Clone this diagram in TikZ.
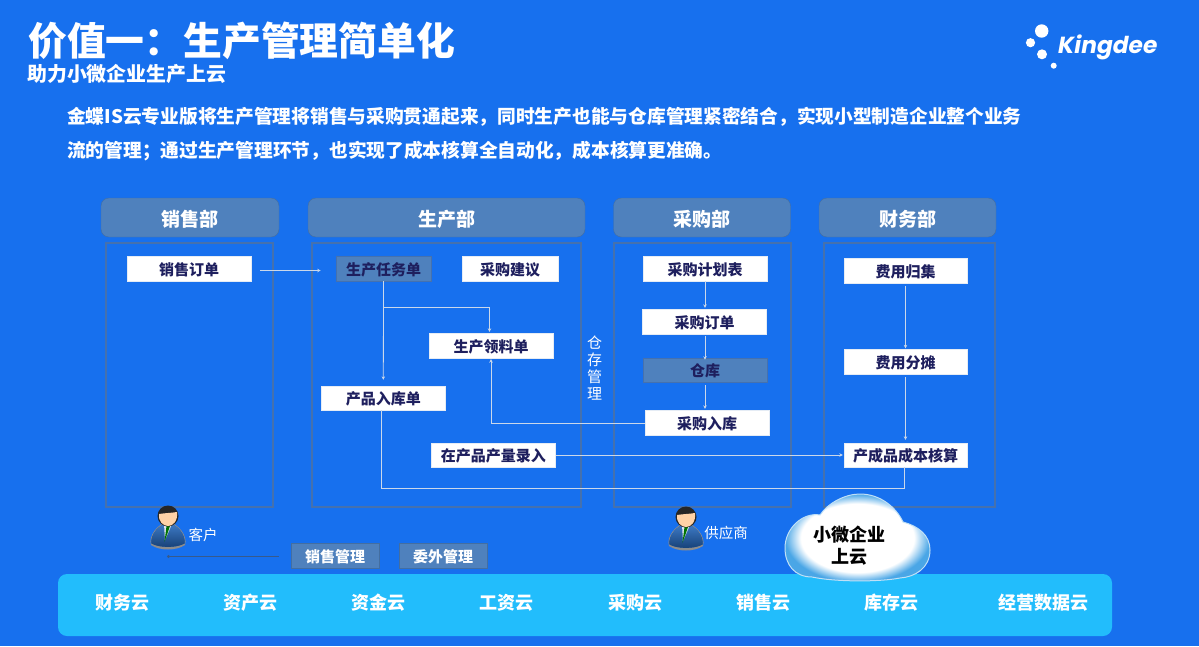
\documentclass[tikz,border=0pt]{standalone}
\usepackage{fontspec}
\setmainfont{Noto Sans CJK SC}
\newfontfamily\kfont{Poppins}
\usetikzlibrary{arrows.meta,shadings}
\definecolor{bgblue}{HTML}{1770EE}
\definecolor{hdr}{HTML}{4F81BD}
\definecolor{panelln}{HTML}{4571AE}
\definecolor{darktxt}{HTML}{1E1F5E}
\definecolor{connln}{HTML}{CBD8EA}
\definecolor{band}{HTML}{22BDFC}
\definecolor{cloudedge}{HTML}{4AA6E6}
\definecolor{suit}{HTML}{1F5BA8}
\definecolor{suitlt}{HTML}{3F7CC8}
\pgfdeclareradialshading{cloudsh}{\pgfpoint{0bp}{0bp}}{color(0bp)=(white); color(19.5bp)=(white); color(25bp)=(cloudedge); color(50bp)=(cloudedge)}
\tikzset{
 hdrbox/.style={draw=hdr!85!black,line width=.4pt,fill=hdr,rounded corners=8pt,inner sep=0,minimum height=39pt,text height=19pt,text depth=2pt,text=white,font=\fontsize{19}{19}\selectfont\bfseries},
 panelbox/.style={draw=panelln,line width=1.1pt,inner sep=0},
 whitebox/.style={draw=white!85!hdr,line width=.4pt,fill=white,inner sep=0,minimum width=124pt,minimum height=25pt,text height=15pt,text depth=1.6pt,text=darktxt,font=\fontsize{15}{15}\selectfont\bfseries},
 bluebox/.style={draw=panelln,line width=.6pt,fill=hdr,inner sep=0,minimum width=124pt,minimum height=25pt,text height=15pt,text depth=1.6pt,text=darktxt,font=\fontsize{15}{15}\selectfont\bfseries},
 mgmtbox/.style={draw=hdr!85!black,line width=.4pt,fill=hdr,inner sep=0,minimum width=88pt,minimum height=25pt,text height=15pt,text depth=1.6pt,text=white,font=\fontsize{15}{15}\selectfont\bfseries},
 conn/.style={draw=connln,line width=.8pt,-{Stealth[length=3.5pt,width=3.5pt]}},
 plainconn/.style={draw=connln,line width=.9pt},
 cloudlabel/.style={text=white,inner sep=0,font=\fontsize{18}{18}\selectfont\bfseries},
 person/.pic={
  \fill[black!45] (-17,28) .. controls (-20,19) and (-10,6) .. (0,5) .. controls (10,6) and (20,19) .. (17,28) .. controls (8,34) and (-8,34) .. (-17,28) -- cycle;
  \fill[suit,top color=suitlt,bottom color=suit!70!black] (-16.5,26.5) .. controls (-18,18) and (-9,7) .. (0,6) .. controls (9,7) and (18,18) .. (16.5,26.5) .. controls (8,31) and (-8,31) .. (-16.5,26.5) -- cycle;
  \fill[white!85!suit] (-4,7) -- (4,7) -- (-3,23) -- cycle;
  \fill[green!45!black] (-1.5,9) -- (2,9) -- (-3.5,25) -- cycle;
  \fill[black!85] (0,-1) circle[radius=10.5];
  \fill[orange!35!white] (-9,-3) .. controls (-3,-4) and (3,-4) .. (9,-5) .. controls (10,4) and (5,9) .. (0,9) .. controls (-5,9) and (-10,4) .. (-9,-3) -- cycle;
 }
}
\begin{document}
\begin{tikzpicture}[x=1pt,y=-1pt]
\useasboundingbox (0,0) rectangle (1199,646);
\fill[bgblue] (0,0) rectangle (1199,646);

% titles
\node[anchor=west,inner sep=0,text=white,font=\fontsize{38.8}{39}\selectfont\bfseries] (title) at (28,41) {价值一：生产管理简单化};
\node[anchor=west,inner sep=0,text=white,font=\fontsize{19.9}{20}\selectfont\bfseries] (subt) at (27,74) {助力小微企业生产上云};
\node[anchor=west,inner sep=0,text=white,font=\fontsize{18.72}{19}\selectfont\bfseries] (l1) at (67,117) {金蝶IS云专业版将生产管理将销售与采购贯通起来，同时生产也能与仓库管理紧密结合，实现小型制造企业整个业务};
\node[anchor=west,inner sep=0,text=white,font=\fontsize{18.72}{19}\selectfont\bfseries] (l2) at (67,151) {流的管理；通过生产管理环节，也实现了成本核算全自动化，成本核算更准确。};

% logo
\fill[white] (1041.7,31) circle[radius=6.7] (1030.5,42.7) circle[radius=4.6] (1042,54.3) circle[radius=5] (1053.7,65.7) circle[radius=3];
\node[anchor=west,inner sep=0,text=white,font=\kfont\fontsize{23.3}{24}\selectfont\bfseries\itshape] (logo) at (1058,47) {Kingdee};

% headers
\node[hdrbox,minimum width=178pt] (h1) at (190,217.5) {销售部};
\node[hdrbox,minimum width=277pt] (h2) at (446.5,217.5) {生产部};
\node[hdrbox,minimum width=177pt] (h3) at (702,217.5) {采购部};
\node[hdrbox,minimum width=177pt] (h4) at (907.5,217.5) {财务部};

% panels
\node[panelbox,minimum width=167pt,minimum height=264pt] (p1) at (189.5,375) {};
\node[panelbox,minimum width=269pt,minimum height=264pt] (p2) at (446.5,375) {};
\node[panelbox,minimum width=177pt,minimum height=264pt] (p3) at (702.5,375) {};
\node[panelbox,minimum width=171pt,minimum height=264pt] (p4) at (909.5,375) {};

% boxes
\node[whitebox] (so) at (189,268.5) {销售订单};
\node[bluebox,minimum width=95pt] (task) at (383.5,268.5) {生产任务单};
\node[whitebox,minimum width=96pt] (sugg) at (510,268.5) {采购建议};
\node[whitebox] (pick) at (491,345.5) {生产领料单};
\node[whitebox,minimum height=24pt] (inb) at (383.3,398) {产品入库单};
\node[whitebox,minimum height=24pt] (wip) at (493.3,455) {在产品产量录入};
\node[whitebox] (plan) at (705,268.5) {采购计划表};
\node[whitebox] (po) at (704.5,321.5) {采购订单};
\node[bluebox,minimum height=24pt] (wh) at (705,370) {仓库};
\node[whitebox] (pin) at (707,422.5) {采购入库};
\node[whitebox,minimum width=123pt] (fee) at (905.5,270.5) {费用归集};
\node[whitebox,minimum width=123pt,minimum height=24.5pt] (alloc) at (905.5,361.8) {费用分摊};
\node[whitebox,minimum width=123pt,minimum height=24pt] (cost) at (905.5,455) {产成品成本核算};

% junctions
\coordinate (j1) at (383.5,307);
\coordinate (j2) at (491,423);
\coordinate (j3) at (381.5,488.5);
\coordinate (j4) at (904,488.5);
\coordinate (y1) at (0,270.5);

% connectors
\draw[conn,shorten <=9pt,shorten >=15pt] (so.east |- y1) -- (task.west |- y1);
\draw[conn,shorten >=1pt] (task.south) -- (j1) -| (pick.north -| 489.5,0);
\draw[conn,shorten >=6pt] (task.south) -- (inb.north);
\draw[conn,shorten >=1pt] (pin.west |- j2) -- (j2) -- (pick.south);
\draw[plainconn] (inb.south -| j3) -- (j3) -- (j4) -- (cost.south -| j4);
\draw[conn,line width=1pt,shorten >=1pt] (wip.east) -- (cost.west);
\draw[conn,shorten >=1pt] (plan.south) -- (po.north -| plan.south);
\draw[conn,shorten <=2pt,shorten >=-2pt] (po.south -| plan.south) -- (wh.north);
\draw[conn,shorten <=3pt,shorten >=1pt] (wh.south) -- (pin.north -| wh.south);
\draw[conn,shorten <=3pt,shorten >=1pt] (fee.south) -- (alloc.north);
\draw[conn,shorten <=3pt,shorten >=3pt] (alloc.south) -- (cost.north);

% warehouse side label
\node[inner sep=0,text=white,align=center,font=\fontsize{15}{17}\selectfont] (store) at (594.5,368.5) {仓\\存\\管\\理};

% people
\pic at (168,517) {person};
\pic at (686,518) {person};
\node[inner sep=0,text=white,font=\fontsize{14.5}{14.5}\selectfont] (cust) at (203,535) {客户};
\node[inner sep=0,text=white,font=\fontsize{14.5}{14.5}\selectfont] (supp) at (726,533) {供应商};

% management boxes
\node[mgmtbox] (sm) at (335,555.5) {销售管理};
\node[mgmtbox] (om) at (443,555.5) {委外管理};
\coordinate (lineend) at (167,556.5);
\draw[draw=panelln!80!black,line width=1pt,-{Circle[length=3pt,width=3pt]},shorten <=12pt] (sm.west |- lineend) -- (lineend);

% band
\fill[band,rounded corners=9pt] (58,574) rectangle (1112,636);
\node[cloudlabel] (c1) at (122,603) {财务云};
\node[cloudlabel] (c2) at (250,603) {资产云};
\node[cloudlabel] (c3) at (378,603) {资金云};
\node[cloudlabel] (c4) at (506,603) {工资云};
\node[cloudlabel] (c5) at (635,603) {采购云};
\node[cloudlabel] (c6) at (763,603) {销售云};
\node[cloudlabel] (c7) at (891,603) {库存云};
\node[cloudlabel] (c8) at (1043,603) {经营数据云};

% cloud
\path[shading=cloudsh,draw=white!65!cloudedge,line width=1pt]
 (812,577) .. controls (795,577) and (785,565) .. (785,548)
 .. controls (785,528) and (803,512) .. (820,515)
 .. controls (828,503) and (845,494) .. (860,494)
 .. controls (880,494) and (896,507) .. (903,522)
 .. controls (918,526) and (930,535) .. (930,550)
 .. controls (930,568) and (915,577) .. (900,578)
 .. controls (880,582) and (835,582) .. (812,577) -- cycle;
\node[inner sep=0,text=black,align=center,font=\fontsize{18}{22}\selectfont\bfseries] (cloud) at (849,546) {小微企业\\上云};
\end{tikzpicture}
\end{document}
